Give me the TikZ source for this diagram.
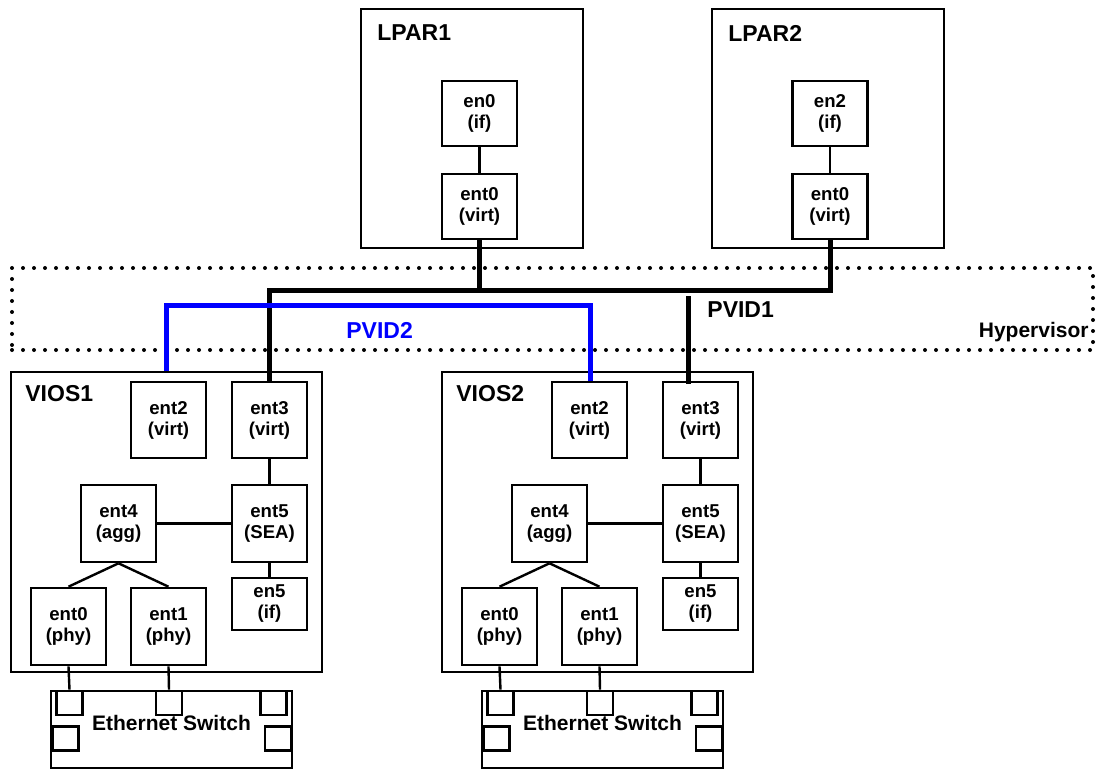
\documentclass[tikz,border=0pt]{standalone}
\usepackage{fontspec}
\setmainfont{Liberation Sans}
\usepackage{tikz}
\usetikzlibrary{shapes}
\tikzstyle{part} = [draw, line width=1.3pt, inner sep=0pt]
\tikzstyle{dev} = [draw, line width=1.3pt, inner sep=0pt, align=center, minimum width=37.5pt, minimum height=38pt, font=\fontsize{9.3}{10.5}\selectfont\bfseries]
\tikzstyle{port} = [draw, line width=1.3pt, inner sep=0pt, minimum width=13pt, minimum height=12pt]
\tikzstyle{title} = [inner sep=0pt, font=\fontsize{11.5}{13}\selectfont\bfseries]
\tikzset{
  link/.style ={draw, line width=1.2pt},
  net/.style ={draw, line width=2.5pt},
  hyper/.style ={draw, line width=2pt, line cap=round, dash pattern=on 0pt off 5.5pt}
}

\begin{document}
\begin{tikzpicture}[x=0.5pt,y=-0.5pt]
  \useasboundingbox (0,0) rectangle (1097,770);

  % hypervisor
  \node[hyper, inner sep=0pt, minimum width=540.5pt, minimum height=41pt] (hyp) at (552.5,309) {};
  \node[title, font=\fontsize{10.5}{12}\selectfont\bfseries, anchor=base east] (hyp-name) at (1089,337) {Hypervisor};

  % client partitions
  \node[part, minimum width=111pt, minimum height=119.5pt] (lpar1) at (472,128.5) {};
  \node[title, anchor=west] (lpar1-name) at (377,33) {LPAR1};
  \node[dev, minimum height=32.5pt] (lpar1-en0) at (479.5,113.5) {en0\\(if)};
  \node[dev, minimum height=32.5pt] (lpar1-ent0) at (479.5,206.5) {ent0\\(virt)};
  \path[link] (lpar1-en0) -- (lpar1-ent0);

  \node[part, minimum width=116pt, minimum height=119.5pt] (lpar2) at (828,128.5) {};
  \node[title, anchor=west] (lpar2-name) at (728,33) {LPAR2};
  \node[dev, minimum height=32.5pt] (lpar2-en2) at (830,113.5) {en2\\(if)};
  \node[dev, minimum height=32.5pt] (lpar2-ent0) at (830,206.5) {ent0\\(virt)};
  \path[link] (lpar2-en2) -- (lpar2-ent0);

  % VIO servers and their switches
  \foreach \i/\dx/\ex in {1/0/168.5, 2/431/589.5} {
    \node[part, minimum width=155.5pt, minimum height=150pt] (vios\i) at ({166.5+\dx},522) {};
    \node[title, anchor=west] (vios\i-name) at ({25+\dx},394) {VIOS\i};
    \node[dev] (vios\i-ent2) at (\ex,420) {ent2\\(virt)};
    \node[dev] (vios\i-ent3) at ({269.5+\dx},420) {ent3\\(virt)};
    \node[dev, minimum height=38.5pt] (vios\i-ent4) at ({118.5+\dx},523.5) {ent4\\(agg)};
    \node[dev, minimum height=38.5pt] (vios\i-ent5) at ({269.5+\dx},523.5) {ent5\\(SEA)};
    \node[dev, minimum height=26pt] (vios\i-en5) at ({269.5+\dx},604) {en5\\(if)};
    \node[dev, minimum height=38.5pt] (vios\i-ent0) at ({68.5+\dx},626.5) {ent0\\(phy)};
    \node[dev, minimum height=38.5pt] (vios\i-ent1) at ({168.5+\dx},626.5) {ent1\\(phy)};

    \node[part, minimum width=120.5pt, minimum height=38.5pt] (sw\i) at ({171.5+\dx},729.5) {};
    \node[title, font=\fontsize{10.5}{12}\selectfont\bfseries] (sw\i-name) at ({171.5+\dx},723) {Ethernet Switch};
    \node[port] (sw\i-p1) at ({69.5+\dx},703) {};
    \node[port] (sw\i-p2) at ({169+\dx},703) {};
    \node[port] (sw\i-p3) at ({273.5+\dx},703) {};
    \node[port] (sw\i-p4) at ({65.5+\dx},738.5) {};
    \node[port] (sw\i-p5) at ({278+\dx},738.5) {};

    \path[link] (vios\i-ent3) -- (vios\i-ent5) -- (vios\i-en5);
    \path[link] (vios\i-ent4) -- (vios\i-ent5);
    \path[link] (vios\i-ent4.south) -- (vios\i-ent0.north);
    \path[link] (vios\i-ent4.south) -- (vios\i-ent1.north);
    \path[link] (vios\i-ent0.south) -- (sw\i-p1.north);
    \path[link] (vios\i-ent1.south) -- (sw\i-p2.north);
  }

  % virtual networks
  \coordinate (bus-r) at (830,290);
  \coordinate (pvid1) at (688.5,296);
  \coordinate (pvid2-l) at (166,305);
  \coordinate (pvid2-r) at (590,305);
  \path[net] (vios1-ent3.north) |- (bus-r) -- (lpar2-ent0.south);
  \path[net] (lpar1-ent0.south) -- (lpar1-ent0.south |- bus-r);
  \path[net, shorten >=-1.5pt] (pvid1) -- (pvid1 |- vios2-ent3.north);
  \path[net, blue] (pvid2-l |- vios1.north) -- (pvid2-l) -- (pvid2-r) -- (pvid2-r |- vios2-ent2.north);

  \node[title, anchor=west] (pvid1-name) at (707,310) {PVID1};
  \node[title, anchor=west, text=blue] (pvid2-name) at (346,330) {PVID2};
\end{tikzpicture}
\end{document}
